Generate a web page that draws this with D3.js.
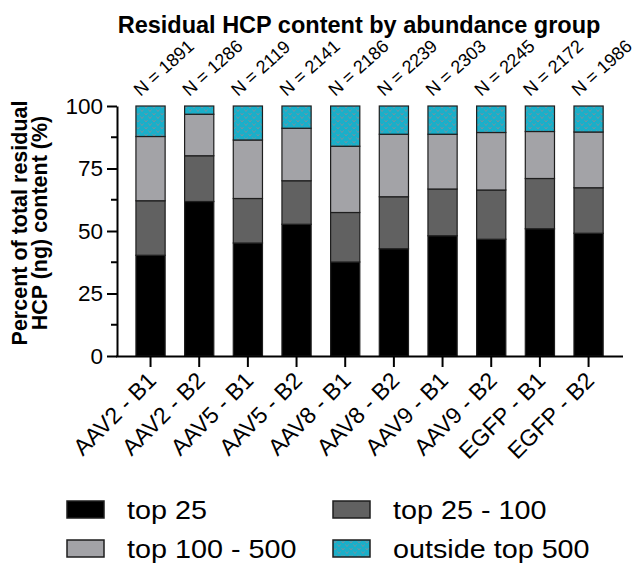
<!DOCTYPE html>
<html>
<head>
<meta charset="utf-8">
<script src="https://cdn.jsdelivr.net/npm/d3@7"></script>
<style>
  html, body { margin: 0; padding: 0; background: #fff; }
  svg { display: block; font-family: "Liberation Sans", Arial, sans-serif; }
</style>
</head>
<body>
<svg id="chart" width="643" height="565"></svg>
<script>
const categories = ["AAV2 - B1","AAV2 - B2","AAV5 - B1","AAV5 - B2","AAV8 - B1","AAV8 - B2","AAV9 - B1","AAV9 - B2","EGFP - B1","EGFP - B2"];
const nCounts = [1891, 1286, 2119, 2141, 2186, 2239, 2303, 2245, 2172, 1986];
const seriesNames = ["top 25", "top 25 - 100", "top 100 - 500", "outside top 500"];
const top25 = [40.3, 61.8, 45.2, 52.7, 37.6, 42.9, 48.1, 46.7, 50.9, 49.1];
const top25to100 = [21.8, 18.3, 17.8, 17.4, 19.8, 20.8, 18.7, 19.7, 20.1, 18.2];
const top100to500 = [25.7, 16.6, 23.4, 21.0, 26.5, 25.0, 21.9, 23.0, 18.8, 22.3];
const outside500 = [12.2, 3.3, 13.6, 8.9, 16.1, 11.3, 11.3, 10.6, 10.2, 10.4];
const yTicks = [0, 25, 50, 75, 100];
const yMinorTicks = [12.5, 37.5, 62.5, 87.5];

const svg = d3.select("#chart");
const defs = svg.append("defs");

// Pattern for "outside top 500"
const pat = defs.append("pattern")
  .attr("id", "vpat").attr("patternUnits", "userSpaceOnUse")
  .attr("width", 8).attr("height", 7);
pat.append("rect").attr("width", 8).attr("height", 7).attr("fill", "#1aafc9");
pat.append("path").attr("d", "M0.5,1 L2,3 L3.5,1 M4.5,4.5 L6,6.5 L7.5,4.5")
  .attr("stroke", "#8c8a96").attr("stroke-width", 0.8).attr("fill", "none");

const fills = ["#000000", "#616161", "#a3a3a7", "url(#vpat)"];

const rows = categories.map((c, i) => ({
  cat: c,
  "top 25": top25[i],
  "top 25 - 100": top25to100[i],
  "top 100 - 500": top100to500[i],
  "outside top 500": outside500[i]
}));
const stacked = d3.stack().keys(seriesNames)(rows);

const x = d3.scaleBand().domain(categories).range([126.2, 612.9])
  .paddingInner(0.4).paddingOuter(0.2);
const y = d3.scaleLinear().domain([0, 100]).range([356, 106]);

// Bars
svg.append("g").selectAll("g").data(stacked).join("g")
  .attr("fill", (d, i) => fills[i])
  .selectAll("rect").data(d => d).join("rect")
  .attr("x", d => x(d.data.cat))
  .attr("width", x.bandwidth())
  .attr("y", d => y(d[1]))
  .attr("height", d => y(d[0]) - y(d[1]))
  .attr("stroke", "#1e1e1e").attr("stroke-width", 1.2);

// Y axis
const yAxis = svg.append("g").attr("transform", "translate(117,0)")
  .call(d3.axisLeft(y).tickValues(yTicks).tickSize(10).tickPadding(4).tickSizeOuter(0));
yAxis.select(".domain").attr("stroke", "#000").attr("stroke-width", 2);
yAxis.selectAll(".tick line").attr("stroke", "#000").attr("stroke-width", 2);
yAxis.selectAll(".tick text").attr("font-size", 22.5).attr("fill", "#000")
  .attr("font-family", "Liberation Sans, Arial, sans-serif");
yAxis.selectAll(".minor").data(yMinorTicks).join("line")
  .attr("class", "minor")
  .attr("x1", -6).attr("x2", 0)
  .attr("y1", d => y(d)).attr("y2", d => y(d))
  .attr("stroke", "#000").attr("stroke-width", 2);

// X axis
const xAxis = svg.append("g").attr("transform", "translate(0,356)")
  .call(d3.axisBottom(x).tickSize(11).tickSizeOuter(0).tickPadding(6));
xAxis.select(".domain").attr("d", "M116,0.5H623").attr("stroke", "#000").attr("stroke-width", 2);
xAxis.selectAll(".tick line").attr("stroke", "#000").attr("stroke-width", 2);
xAxis.selectAll(".tick text")
  .attr("font-size", 23).attr("fill", "#000")
  .attr("font-family", "Liberation Sans, Arial, sans-serif")
  .attr("text-anchor", "end")
  .attr("dy", null)
  .attr("transform", "translate(7,26) rotate(-45)")
  .attr("y", 0).attr("x", 0);

// N labels
svg.append("g").selectAll("text").data(categories).join("text")
  .attr("transform", d => `translate(${x(d) + x.bandwidth() / 2 - 10},97) rotate(-42)`)
  .attr("font-size", 18).attr("fill", "#000")
  .text((d, i) => `N = ${nCounts[i]}`);

// Title
svg.append("text").attr("x", 359).attr("y", 33)
  .attr("text-anchor", "middle").attr("font-weight", "bold").attr("font-size", 23.5)
  .attr("fill", "#000")
  .text("Residual HCP content by abundance group");

// Y title
const yt = svg.append("g").attr("transform", "translate(0,223) rotate(-90)");
yt.append("text").attr("x", 0).attr("y", 27).attr("text-anchor", "middle")
  .attr("font-weight", "bold").attr("font-size", 21.5).text("Percent of total residual");
yt.append("text").attr("x", 0).attr("y", 47).attr("text-anchor", "middle")
  .attr("font-weight", "bold").attr("font-size", 21.5).text("HCP (ng) content (%)");

// Legend
const legendPos = [[67, 501], [333, 501], [67, 540], [333, 540]];
const leg = svg.append("g").selectAll("g").data(seriesNames).join("g")
  .attr("transform", (d, i) => `translate(${legendPos[i][0]},${legendPos[i][1]})`);
leg.append("rect").attr("width", 37).attr("height", 17)
  .attr("fill", (d, i) => fills[i]).attr("stroke", "#1e1e1e").attr("stroke-width", 1.5);
leg.append("text")
  .attr("transform", "translate(60,18) scale(1.15,1)")
  .attr("font-size", 25).attr("fill", "#000")
  .text(d => d);
</script>
</body>
</html>
